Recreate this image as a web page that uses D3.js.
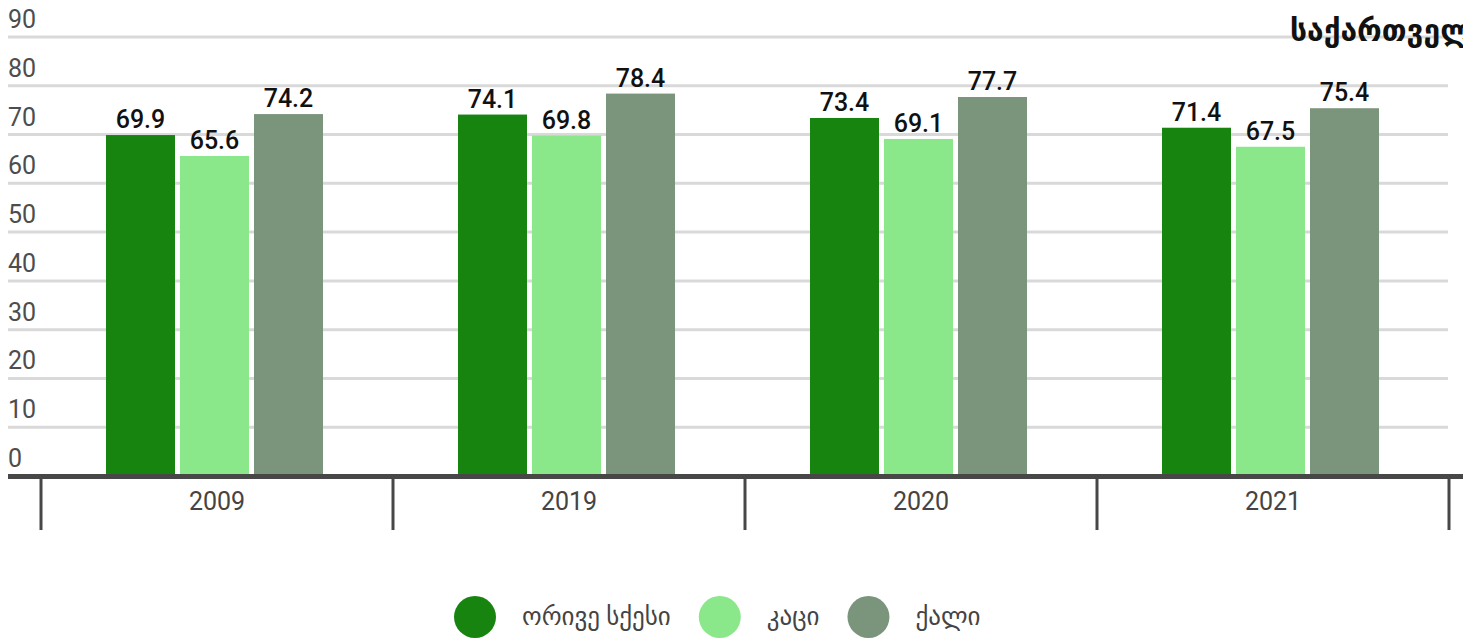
<!DOCTYPE html>
<html>
<head>
<meta charset="utf-8">
<script src="https://cdn.jsdelivr.net/npm/d3@7"></script>
<style>
  html, body { margin: 0; padding: 0; background: #fff; overflow: hidden; }
  svg { display: block; font-family: Roboto, "DejaVu Sans", sans-serif; }
</style>
</head>
<body>
<div id="chart"></div>
<script>
const years = ['2009', '2019', '2020', '2021'];
const seriesNames = ['ორივე სქესი', 'კაცი', 'ქალი'];
const bothSexes = [69.9, 74.1, 73.4, 71.4];
const men = [65.6, 69.8, 69.1, 67.5];
const women = [74.2, 78.4, 77.7, 75.4];
const yTicks = [0, 10, 20, 30, 40, 50, 60, 70, 80, 90];
const titleText = 'საქართველო';

const colors = ['#188410', '#8ae78a', '#7b957c'];
const seriesValues = [bothSexes, men, women];

const width = 1463, height = 640;

const svg = d3.select('#chart')
  .append('svg')
  .attr('width', width)
  .attr('height', height);

const x0 = d3.scaleBand()
  .domain(years)
  .range([41, 1449])
  .padding(0);

// bars: 69px wide, 5px apart, group sits a little left of the band centre
const groupW = 217;
const x1 = d3.scaleBand()
  .domain(seriesNames)
  .range([0, groupW])
  .paddingInner(5 / 74);

const y = d3.scaleLinear()
  .domain([0, 90])
  .range([476, 37]);

// gridlines
svg.append('g')
  .selectAll('line')
  .data(yTicks.filter(d => d > 0))
  .enter().append('line')
  .attr('x1', 8)
  .attr('x2', 1448)
  .attr('y1', d => y(d))
  .attr('y2', d => y(d))
  .attr('stroke', '#d9d9d9')
  .attr('stroke-width', 3);

// y labels
svg.append('g')
  .selectAll('text')
  .data(yTicks)
  .enter().append('text')
  .attr('x', 8)
  .attr('y', d => y(d) - 9)
  .style('fill', '#4d4d4d')
  .style('font-size', '25px')
  .text(d => d);

// bars
const groups = svg.append('g')
  .selectAll('g')
  .data(years)
  .enter().append('g')
  .attr('transform', d => `translate(${x0(d) + (x0.bandwidth() - groupW) / 2 - 2.5},0)`);

groups.selectAll('rect')
  .data((d, i) => seriesNames.map((s, j) => ({ s, j, v: seriesValues[j][i] })))
  .enter().append('rect')
  .attr('x', d => x1(d.s))
  .attr('width', x1.bandwidth())
  .attr('y', d => y(d.v))
  .attr('height', d => y(0) - y(d.v))
  .attr('fill', d => colors[d.j]);

groups.selectAll('text')
  .data((d, i) => seriesNames.map((s, j) => ({ s, j, v: seriesValues[j][i] })))
  .enter().append('text')
  .attr('x', d => x1(d.s) + x1.bandwidth() / 2)
  .attr('y', d => y(d.v) - 7)
  .attr('text-anchor', 'middle')
  .style('fill', '#111')
  .style('font-size', '25px')
  .style('font-weight', 500)
  .text(d => d.v.toFixed(1));

// x axis
const xAxis = svg.append('g');
xAxis.append('line')
  .attr('x1', 8)
  .attr('x2', width)
  .attr('y1', y(0) + 0.5)
  .attr('y2', y(0) + 0.5)
  .attr('stroke', '#474747')
  .attr('stroke-width', 5);

const edges = years.map(d => x0(d)).concat([x0(years[years.length - 1]) + x0.bandwidth()]);
xAxis.selectAll('line.sep')
  .data(edges)
  .enter().append('line')
  .attr('class', 'sep')
  .attr('x1', d => d)
  .attr('x2', d => d)
  .attr('y1', y(0))
  .attr('y2', 530)
  .attr('stroke', '#474747')
  .attr('stroke-width', 3);

xAxis.selectAll('text')
  .data(years)
  .enter().append('text')
  .attr('x', d => x0(d) + x0.bandwidth() / 2)
  .attr('y', 510)
  .attr('text-anchor', 'middle')
  .style('fill', '#444')
  .style('font-size', '25px')
  .text(d => d);

// title (runs off the right edge, as in the original)
svg.append('text')
  .attr('x', 1290)
  .attr('y', 41)
  .style('fill', '#111')
  .style('font-size', '30px')
  .style('font-weight', 'bold')
  .text(titleText);

// legend
const legend = svg.append('g').attr('transform', 'translate(454,617)');
let lx = 0;
seriesNames.forEach((name, i) => {
  const item = legend.append('g').attr('transform', `translate(${lx},0)`);
  item.append('circle')
    .attr('cx', 21)
    .attr('cy', 0)
    .attr('r', 21)
    .attr('fill', colors[i]);
  const t = item.append('text')
    .attr('x', 68)
    .attr('y', 8)
    .style('fill', '#444')
    .style('font-size', '25px')
    .text(name);
  lx += 68 + t.node().getComputedTextLength() + 28;
});
</script>
</body>
</html>
